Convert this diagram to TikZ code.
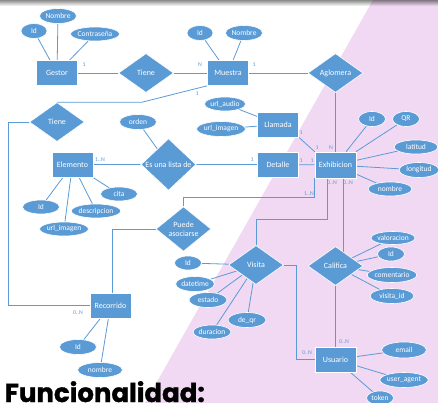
\documentclass[tikz,border=0pt]{standalone}
\usepackage{fontspec}
\setmainfont{Carlito}
\newfontfamily\headfont{Poppins}[BoldFeatures={FakeBold=1.2}]
\usetikzlibrary{shapes.geometric}

\definecolor{erblue}{RGB}{91,155,213}
\definecolor{lilac}{RGB}{241,217,243}

\pgfdeclarelayer{paper}
\pgfdeclarelayer{wires}
\pgfsetlayers{paper,wires,main}

\tikzset{
  ent/.style={rectangle, fill=erblue, draw=white, line width=0.6pt,
    minimum width=41pt, minimum height=25pt, inner sep=0pt,
    text=white, font=\fontsize{8}{9}\selectfont},
  rel/.style={diamond, fill=erblue, draw=white, line width=0.6pt,
    minimum width=55pt, minimum height=39pt, inner sep=0pt, align=center,
    text=white, font=\fontsize{8}{9}\selectfont},
  att/.style 2 args={ellipse, fill=erblue, draw=white, line width=0.6pt,
    minimum width=#1, minimum height=#2, inner sep=0pt,
    text=white, font=\fontsize{7.5}{8}\selectfont},
  link/.style={draw=erblue, line width=0.8pt},
  card/.style={text=erblue, inner sep=0pt, font=\fontsize{5.8}{6}\selectfont}
}

\begin{document}
\begin{tikzpicture}[x=1pt, y=-1pt]
\useasboundingbox (0,0) rectangle (438,403);
\clip (0,0) rectangle (438,403);

% paper: white sheet with a lilac diagonal band
\begin{pgfonlayer}{paper}
  \fill[white] (0,0) rectangle (438,403);
  \fill[lilac] (373,0) -- (438,0) -- (438,403) -- (145,403) -- cycle;
\end{pgfonlayer}

% entities
\node[ent] (gestor)    at (57,73)      {Gestor};
\node[ent] (muestra)   at (228,73)     {Muestra};
\node[ent] (llamada)   at (278,124.5)  {Llamada};
\node[ent] (detalle)   at (278,164.5)  {Detalle};
\node[ent, minimum height=26pt] (exh) at (335.5,165) {Exhibicion};
\node[ent] (elemento)  at (72.5,164.5) {Elemento};
\node[ent] (recorrido) at (110.5,305.5) {Recorrido};
\node[ent] (usuario)   at (335.5,359.5) {Usuario};

% relationships
\node[rel] (tieneA)   at (146,73)      {Tiene};
\node[rel] (aglomera) at (335.5,73)    {Aglomera};
\node[rel] (tieneB)   at (57,122)      {Tiene};
\node[rel] (lista)    at (168.5,164.5) {Es una lista de};
\node[rel] (puede)    at (183.5,229)   {Puede\\asociarse};
\node[rel] (visita)   at (256,265)     {Visita};
\node[rel] (califica) at (335.5,266)   {Califica};

% attributes
\node[att={26pt}{15pt}] (gId)     at (34,31)  {Id};
\node[att={37pt}{15pt}] (gNombre) at (58,16)  {Nombre};
\node[att={47pt}{14pt}] (gPass)   at (95,34)  {Contraseña};

\node[att={26pt}{15pt}] (mId)     at (200,33) {Id};
\node[att={37pt}{15pt}] (mNombre) at (244,33) {Nombre};

\node[att={38pt}{14pt}] (lAudio)  at (225,104) {url\_audio};
\node[att={45pt}{15pt}] (lImagen) at (221,129) {url\_imagen};

\node[att={37pt}{15pt}] (orden)   at (138,122) {orden};

\node[att={27pt}{15pt}] (xId)  at (372,119) {Id};
\node[att={27pt}{15pt}] (xQR)  at (406,119) {QR};
\node[att={44pt}{14pt}] (xLat) at (416,147) {latitud};
\node[att={40pt}{15pt}] (xLon) at (419,170) {longitud};
\node[att={44pt}{14pt}] (xNom) at (390,189) {nombre};

\node[att={37pt}{14pt}] (eId)   at (41,207)  {Id};
\node[att={45pt}{14pt}] (eDesc) at (96,211)  {descripcion};
\node[att={37pt}{14pt}] (eCita) at (119,194) {cita};
\node[att={44pt}{14pt}] (eImg)  at (64,229)  {url\_imagen};

\node[att={27pt}{14pt}] (vId)   at (188,263) {Id};
\node[att={38pt}{15pt}] (vDate) at (195,284) {datetime};
\node[att={38pt}{15pt}] (vEst)  at (208,300) {estado};
\node[att={38pt}{15pt}] (vQr)   at (247,320) {de\_qr};
\node[att={38pt}{14pt}] (vDur)  at (212,332) {duracion};

\node[att={42pt}{13pt}] (cVal) at (393,238) {valoracion};
\node[att={27pt}{14pt}] (cId)  at (391,254) {Id};
\node[att={43pt}{15pt}] (cCom) at (392,275) {comentario};
\node[att={44pt}{15pt}] (cVis) at (392,296) {visita\_id};

\node[att={45pt}{16pt}] (uEmail) at (404,350) {email};
\node[att={45pt}{15pt}] (uAgent) at (404,380) {user\_agent};
\node[att={27pt}{14pt}] (uToken) at (380,398) {token};

\node[att={37pt}{15pt}] (rId)  at (78,347)  {Id};
\node[att={45pt}{15pt}] (rNom) at (100,370) {nombre};

% connectors, kept beneath the shapes
\begin{pgfonlayer}{wires}
  \draw[link] (gestor) -- (tieneA) -- (muestra) -- (aglomera) -- (exh);
  \draw[link] (muestra.south west) -- ([xshift=85pt]tieneB.north) -- (tieneB.north);
  \draw[link] (tieneB.west) -- ++(-21,0) |- (recorrido.west);
  \draw[link] (elemento) -- (lista) -- (detalle) -- (exh);
  \draw[link] (orden) -- (lista);
  \draw[link] (llamada.south east) -- (exh.north west);
  \draw[link] (puede.north) |- ([yshift=-19pt]exh.south west) -- (exh.south west);
  \draw[link] (puede.west) -| ([xshift=1.5pt]recorrido.north);
  \draw[link] ([xshift=-8.5pt]exh.south) -- ++(0,41) -| (visita.north);
  \draw[link] ([xshift=7.5pt]exh.south) -- ([xshift=7.5pt]califica.center);
  \draw[link] (visita.east) -- ++(13,0) |- (usuario.west);
  \draw[link] (califica) -- (usuario);

  \foreach \a/\b in {gId/gestor, gNombre/gestor, gPass/gestor,
                     mId/muestra, mNombre/muestra,
                     lAudio/llamada, lImagen/llamada,
                     xId/exh, xQR/exh, xLat/exh, xLon/exh, xNom/exh,
                     eId/elemento, eDesc/elemento, eCita/elemento, eImg/elemento,
                     vId/visita, vDate/visita, vEst/visita, vQr/visita, vDur/visita,
                     cVal/califica, cId/califica, cCom/califica, cVis/califica,
                     uEmail/usuario, uAgent/usuario, uToken/usuario,
                     rId/recorrido, rNom/recorrido}
    \draw[link] (\a) -- (\b);
\end{pgfonlayer}

% cardinalities
\node[card] (k1)  at (84,65)   {1};
\node[card] (k2)  at (200,65)  {N};
\node[card] (k3)  at (254,65)  {1};
\node[card] (k4)  at (197,94)  {1};
\node[card] (k5)  at (331,148) {N};
\node[card] (k6)  at (317,148) {1};
\node[card] (k7)  at (301,133) {1};
\node[card] (k8)  at (252,160) {1};
\node[card] (k9)  at (301,161) {1};
\node[card] (k10) at (312,161) {1};
\node[card] (k11) at (100,160) {1..N};
\node[card] (k12) at (309,194) {1..N};
\node[card] (k13) at (332,183) {0..N};
\node[card] (k14) at (348,183) {0..N};
\node[card] (k15) at (78,313)  {0..N};
\node[card] (k16) at (307,353) {0..N};
\node[card] (k17) at (344,342) {0..N};

% heading
\node[anchor=base west, inner sep=0pt, font=\headfont\bfseries\fontsize{26}{28}\selectfont]
  (heading) at (4.5,402) {Funcionalidad:};

% soft shadow along the top edge
\foreach \i in {0,...,5} {
  \pgfmathsetmacro\op{0.45*(1-\i/6)}
  \fill[black, opacity=\op] (0,\i) rectangle (438,\i+1);
}
\end{tikzpicture}
\end{document}
